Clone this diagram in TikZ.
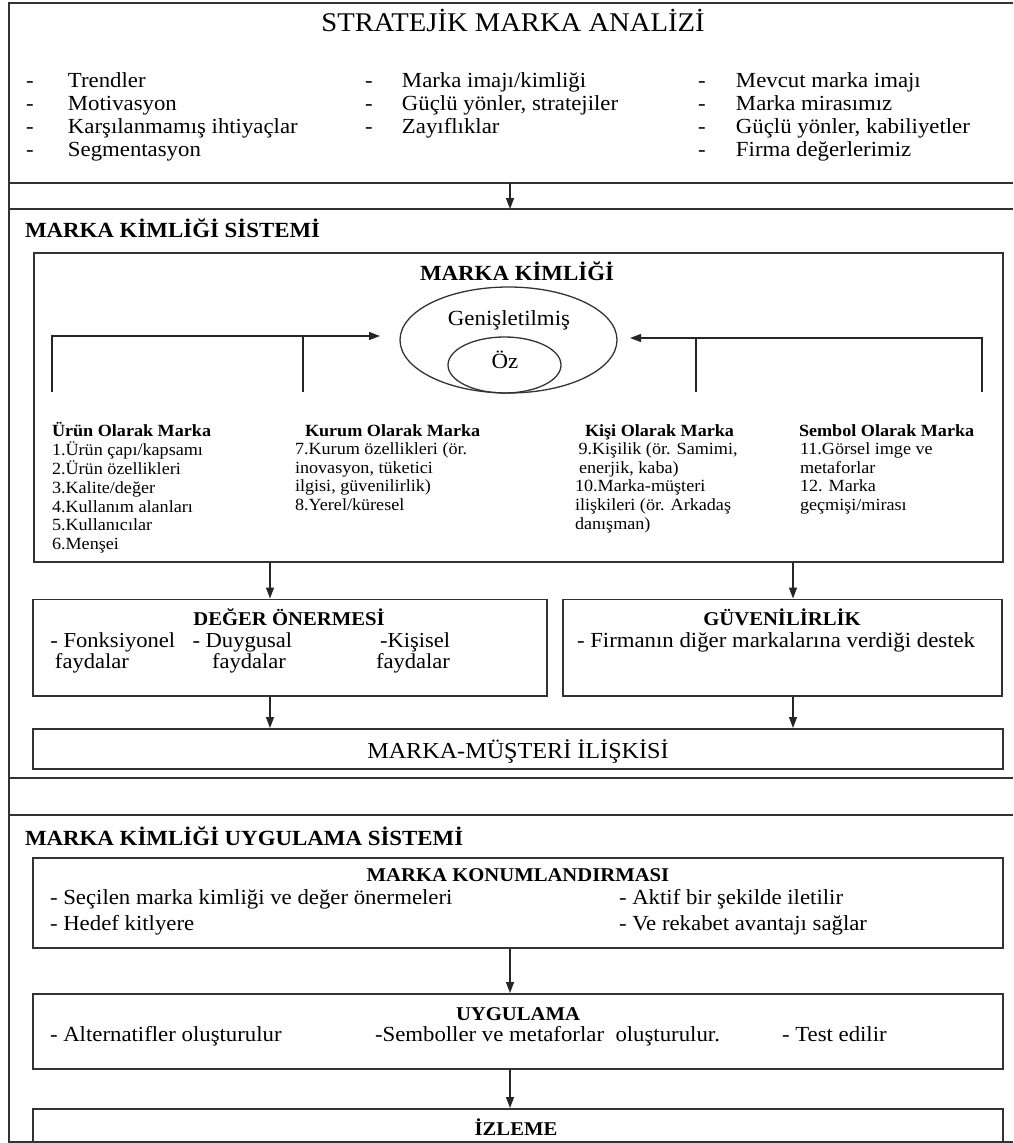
\documentclass[tikz,border=0pt]{standalone}
\usepackage{fontspec}
\setmainfont{Liberation Serif}[FakeStretch=1.06]
\usetikzlibrary{arrows.meta,shapes.geometric,calc}

\newcommand{\fsz}[2]{\fontsize{#1}{#2}\selectfont}
\newcommand{\titlefont}{\fsz{27}{30}}
\newcommand{\bodyfont}{\fsz{21.5}{23.3}}
\newcommand{\headfont}{\bfseries\fsz{21.6}{24}}
\newcommand{\catfont}{\fsz{17.1}{18.6}}
\newcommand{\boxtitlefont}{\bfseries\fsz{19.5}{22}}

\tikzset{
  section/.style={draw=none, rectangle, inner sep=0pt, outer sep=0pt, anchor=north west},
  frameline/.style={draw=black!80, line width=1.8pt},
  box/.style={draw=black!80, line width=1.5pt, rectangle, inner sep=0pt, anchor=north west},
  oval/.style={draw=black!80, line width=1.3pt, ellipse, inner sep=0pt},
  conn/.style={draw=black!85, line width=1.3pt},
  arr/.style={conn, -{Triangle[length=11pt,width=8pt]}},
  txt/.style={inner sep=0pt, outer sep=0pt, anchor=base west},
  ctxt/.style={inner sep=0pt, outer sep=0pt, anchor=base},
}

\begin{document}
\begin{tikzpicture}[x=1pt, y=-1pt]
\useasboundingbox (0,0) rectangle (1013,1143);
\clip (0,0) rectangle (1013,1143);
\fill[white] (0,0) rectangle (1013,1143);

% ---- outer sections: open on the right-hand side ----
\node[section, minimum width=1003.7pt, minimum height=180pt] (sec1) at (9.3,3.3) {};
\node[section, minimum width=1003.7pt, minimum height=569pt] (sec2) at (9.3,209) {};
\node[section, minimum width=1003.7pt, minimum height=327pt] (sec3) at (9.3,815) {};
\draw[frameline] (sec1.north east) -- (sec1.north west) -- (sec3.south west) -- (sec3.south east);
\draw[frameline] (sec1.south west) -- (sec1.south east);
\draw[frameline] (sec2.north west) -- (sec2.north east);
\draw[frameline] (sec2.south west) -- (sec2.south east);
\draw[frameline] (sec3.north west) -- (sec3.north east);

\coordinate (xmid) at (510,0);
\coordinate (xl) at (270,0);
\coordinate (xr) at (793,0);

\draw[arr] (sec1.south -| xmid) -- (sec2.north -| xmid);

% ---- strategic brand analysis ----
\node[ctxt, font=\titlefont] (title) at (513,31.7) {STRATEJİK MARKA ANALİZİ};
\node[txt, font=\bodyfont] (colA) at (26,87) {\begin{tabular}[t]{@{}p{42pt}@{}l@{}}
-&Trendler\\-&Motivasyon\\-&Karşılanmamış ihtiyaçlar\\-&Segmentasyon\end{tabular}};
\node[txt, font=\bodyfont] (colB) at (365,87) {\begin{tabular}[t]{@{}p{37pt}@{}l@{}}
-&Marka imajı/kimliği\\-&Güçlü yönler, stratejiler\\-&Zayıflıklar\end{tabular}};
\node[txt, font=\bodyfont] (colC) at (698,87) {\begin{tabular}[t]{@{}p{38pt}@{}l@{}}
-&Mevcut marka imajı\\-&Marka mirasımız\\-&Güçlü yönler, kabiliyetler\\-&Firma değerlerimiz\end{tabular}};

% ---- brand identity system ----
\node[txt, font=\headfont] (h2) at (25,237) {MARKA KİMLİĞİ SİSTEMİ};
\node[box, minimum width=969pt, minimum height=309pt] (mk) at (33,252) {};
\node[ctxt, font=\headfont] (mkt) at (517,280) {MARKA KİMLİĞİ};

\node[oval, minimum width=217pt, minimum height=106pt] (ext) at (508.5,340) {};
\node[oval, minimum width=113pt, minimum height=56pt] (core) at (504.5,365) {};
\node[ctxt, font=\fsz{21.6}{24}] (extl) at (509,325) {Genişletilmiş};
\node[ctxt, font=\fsz{21.6}{24}] (corel) at (505,368) {Öz};

\coordinate (pL1) at (52,392);
\coordinate (pL2) at (303,392);
\coordinate (tipL) at (380,336);
\coordinate (pR1) at (696,392);
\coordinate (pR2) at (982,392);
\coordinate (tipR) at (630,338);
\draw[arr] (pL1) |- (tipL);
\draw[conn] (pL2) -- (pL2 |- tipL);
\draw[arr] (pR2) |- (tipR);
\draw[conn] (pR1) -- (pR1 |- tipR);

\node[txt, font=\catfont] (urun) at (52,436) {\begin{tabular}[t]{@{}l@{}}
\textbf{Ürün Olarak Marka}\\1.Ürün çapı/kapsamı\\2.Ürün özellikleri\\3.Kalite/değer\\4.Kullanım alanları\\5.Kullanıcılar\\6.Menşei\end{tabular}};

\node[txt, font=\bfseries\catfont] (kurumh) at (305,436) {Kurum Olarak Marka};
\node[txt, font=\catfont] (kurum) at (295,454.6) {\begin{tabular}[t]{@{}l@{}}
7.Kurum özellikleri (ör.\\inovasyon, tüketici\\ilgisi, güvenilirlik)\\8.Yerel/küresel\end{tabular}};

\node[txt, font=\bfseries\catfont] (kisih) at (585,436) {Kişi Olarak Marka};
\node[txt, font=\catfont] (kisi) at (575,454.6) {\begin{tabular}[t]{@{}l@{}}
\hspace*{3.5pt}9.Kişilik (ör. Samimi,\\\hspace*{4pt}enerjik, kaba)\\10.Marka-müşteri\\ilişkileri (ör. Arkadaş\\danışman)\end{tabular}};

\node[txt, font=\bfseries\catfont] (sembolh) at (799,436) {Sembol Olarak Marka};
\node[txt, font=\catfont] (sembol) at (800,454.6) {\begin{tabular}[t]{@{}l@{}}
11.Görsel imge ve\\metaforlar\\12. Marka\\geçmişi/mirası\end{tabular}};

% ---- value proposition and credibility ----
\node[box, minimum width=514pt, minimum height=96.5pt] (deg) at (32,598.5) {};
\node[box, minimum width=439pt, minimum height=96.5pt] (guv) at (562,598.5) {};
\draw[arr] (mk.south -| xl) -- (deg.north -| xl);
\draw[arr] (mk.south -| xr) -- (guv.north -| xr);

\node[ctxt, font=\boxtitlefont] (degt) at (289,625) {DEĞER ÖNERMESİ};
\node[txt, font=\fsz{21.3}{20}] (deg1) at (50.4,647.7) {\begin{tabular}[t]{@{}l@{}}
- Fonksiyonel\\\hspace*{4.6pt}faydalar\end{tabular}};
\node[txt, font=\fsz{21.3}{20}] (deg2) at (192.5,647.7) {\begin{tabular}[t]{@{}l@{}}
- Duygusal\\\hspace*{19.5pt}faydalar\end{tabular}};
\node[txt, font=\fsz{21.3}{20}] (deg3) at (376,647.7) {\begin{tabular}[t]{@{}l@{}}
\hspace*{4pt}-Kişisel\\faydalar\end{tabular}};

\node[ctxt, font=\boxtitlefont] (guvt) at (782,625) {GÜVENİLİRLİK};
\node[txt, font=\fsz{21.5}{23}] (guv1) at (577,647.7) {- Firmanın diğer markalarına verdiği destek};

\node[box, minimum width=970pt, minimum height=40pt] (mmi) at (32,728) {};
\draw[arr] (deg.south -| xl) -- (mmi.north -| xl);
\draw[arr] (guv.south -| xr) -- (mmi.north -| xr);
\node[ctxt, font=\fsz{22.8}{25}] (mmit) at (518,758) {MARKA-MÜŞTERİ İLİŞKİSİ};

% ---- implementation system ----
\node[txt, font=\headfont] (h3) at (25,845) {MARKA KİMLİĞİ UYGULAMA SİSTEMİ};

\node[box, minimum width=970pt, minimum height=90pt] (konum) at (32,857) {};
\node[ctxt, font=\boxtitlefont] (konumt) at (518,881.7) {MARKA KONUMLANDIRMASI};
\node[txt, font=\fsz{21.5}{25.7}] (konum1) at (50,904.3) {\begin{tabular}[t]{@{}l@{}}
- Seçilen marka kimliği ve değer önermeleri\\- Hedef kitlyere\end{tabular}};
\node[txt, font=\fsz{21.5}{25.7}] (konum2) at (619,904.3) {\begin{tabular}[t]{@{}l@{}}
- Aktif bir şekilde iletilir\\- Ve rekabet avantajı sağlar\end{tabular}};

\node[box, minimum width=970pt, minimum height=75pt] (uyg) at (32,993) {};
\draw[arr] (konum.south -| xmid) -- (uyg.north -| xmid);
\node[ctxt, font=\boxtitlefont] (uygt) at (518,1020) {UYGULAMA};
\node[txt, font=\bodyfont] (uyg1) at (50,1041) {- Alternatifler oluşturulur};
\node[txt, font=\bodyfont] (uyg2) at (375,1041) {-Semboller ve metaforlar\ \ oluşturulur.};
\node[txt, font=\bodyfont] (uyg3) at (782,1041) {- Test edilir};

\node[box, minimum width=970pt, minimum height=34pt] (izl) at (32,1108) {};
\draw[arr] (uyg.south -| xmid) -- (izl.north -| xmid);
\node[ctxt, font=\boxtitlefont] (izlt) at (516,1135) {İZLEME};
\end{tikzpicture}
\end{document}
